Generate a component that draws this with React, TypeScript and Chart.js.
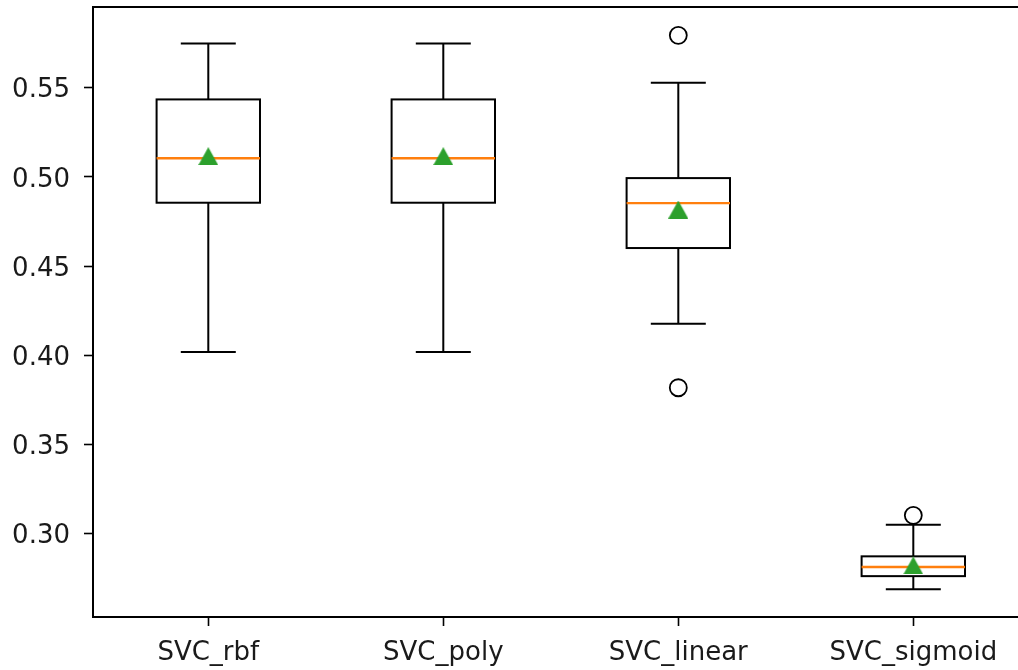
import React, { useEffect, useRef } from 'react';
import { Chart, registerables } from 'chart.js';

Chart.register(...registerables);

const categories = ['SVC_rbf', 'SVC_poly', 'SVC_linear', 'SVC_sigmoid'];
const whiskerLow = [0.4018, 0.4018, 0.4177, 0.2688];
const q1 = [0.4855, 0.4855, 0.4601, 0.2762];
const medians = [0.5104, 0.5104, 0.4853, 0.2813];
const q3 = [0.5434, 0.5434, 0.4993, 0.2873];
const whiskerHigh = [0.5747, 0.5747, 0.5528, 0.305];
const means = [0.5116, 0.5116, 0.4817, 0.2822];
const outlierCategory = [3, 3, 4];
const outlierValues = [0.5793, 0.3818, 0.3103];
const yTicks = [0.3, 0.35, 0.4, 0.45, 0.5, 0.55];

const FONT = { family: "'DejaVu Sans', sans-serif", size: 26 };
const TEXT = '#1a1a1a';

export default function App() {
  const ref = useRef<HTMLCanvasElement>(null);

  useEffect(() => {
    if (!ref.current) return;

    const tri = document.createElement('canvas');
    tri.width = 20;
    tri.height = 18;
    const tctx = tri.getContext('2d')!;
    tctx.fillStyle = '#2ca02c';
    tctx.beginPath();
    tctx.moveTo(10, 0);
    tctx.lineTo(20, 18);
    tctx.lineTo(0, 18);
    tctx.closePath();
    tctx.fill();

    const boxHalf = 0.22;
    const capHalf = 0.117;

    const boxPlugin = {
      id: 'boxes',
      beforeDatasetsDraw(chart: any) {
        const { ctx, scales, chartArea } = chart;
        const x = scales.x;
        const y = scales.y;
        ctx.save();
        ctx.beginPath();
        ctx.rect(chartArea.left, chartArea.top, chartArea.right - chartArea.left, chartArea.bottom - chartArea.top);
        ctx.clip();
        categories.forEach((_, i) => {
          const pos = i + 1;
          const xc = x.getPixelForValue(pos);
          const xl = x.getPixelForValue(pos - boxHalf);
          const xr = x.getPixelForValue(pos + boxHalf);
          const cl = x.getPixelForValue(pos - capHalf);
          const cr = x.getPixelForValue(pos + capHalf);
          const yLo = y.getPixelForValue(whiskerLow[i]);
          const yQ1 = y.getPixelForValue(q1[i]);
          const yMed = y.getPixelForValue(medians[i]);
          const yQ3 = y.getPixelForValue(q3[i]);
          const yHi = y.getPixelForValue(whiskerHigh[i]);
          ctx.strokeStyle = '#000';
          ctx.lineWidth = 2;
          ctx.beginPath();
          ctx.moveTo(xc, yQ3);
          ctx.lineTo(xc, yHi);
          ctx.moveTo(cl, yHi);
          ctx.lineTo(cr, yHi);
          ctx.moveTo(xc, yQ1);
          ctx.lineTo(xc, yLo);
          ctx.moveTo(cl, yLo);
          ctx.lineTo(cr, yLo);
          ctx.stroke();
          ctx.strokeRect(xl, yQ3, xr - xl, yQ1 - yQ3);
          ctx.strokeStyle = '#ff7f0e';
          ctx.lineWidth = 2.4;
          ctx.beginPath();
          ctx.moveTo(xl, yMed);
          ctx.lineTo(xr, yMed);
          ctx.stroke();
        });
        ctx.restore();
      },
      afterDraw(chart: any) {
        const { ctx, chartArea } = chart;
        ctx.save();
        ctx.strokeStyle = '#000';
        ctx.lineWidth = 2;
        ctx.beginPath();
        ctx.moveTo(chartArea.left, chartArea.top);
        ctx.lineTo(chartArea.right, chartArea.top);
        ctx.stroke();
        ctx.restore();
      },
    };

    const chart = new Chart(ref.current, {
      type: 'scatter',
      data: {
        datasets: [
          {
            label: 'outliers',
            data: outlierCategory.map((c, i) => ({ x: c, y: outlierValues[i] })),
            pointStyle: 'circle',
            pointRadius: 8.5,
            borderColor: '#000',
            borderWidth: 1.8,
            backgroundColor: 'rgba(0,0,0,0)',
          },
          {
            label: 'means',
            data: categories.map((_, i) => ({ x: i + 1, y: means[i] })),
            pointStyle: tri as any,
            pointRadius: 10,
          },
        ],
      },
      options: {
        responsive: false,
        animation: false,
        events: [],
        layout: { autoPadding: false, padding: { top: 7, left: 0, right: 0, bottom: 0 } },
        plugins: { legend: { display: false }, tooltip: { enabled: false } },
        scales: {
          x: {
            type: 'linear',
            min: 0.5094,
            max: 4.4455,
            afterBuildTicks: (s: any) => {
              s.ticks = categories.map((_, i) => ({ value: i + 1 }));
            },
            afterFit: (s: any) => {
              s.height = 53;
              s.paddingLeft = 0;
              s.paddingRight = 0;
            },
            grid: { display: true, drawOnChartArea: false, drawTicks: true, tickLength: 9, tickWidth: 1.6, tickColor: '#000' },
            border: { display: true, color: '#000', width: 2 },
            ticks: {
              font: FONT,
              color: TEXT,
              padding: 12,
              maxRotation: 0,
              autoSkip: false,
              callback: (v: any) => categories[Math.round(v) - 1] ?? '',
            },
          },
          y: {
            type: 'linear',
            min: 0.2533,
            max: 0.5952,
            afterBuildTicks: (s: any) => {
              s.ticks = yTicks.map((v) => ({ value: v }));
            },
            afterFit: (s: any) => {
              s.width = 93;
              s.paddingTop = 0;
              s.paddingBottom = 0;
            },
            grid: { display: true, drawOnChartArea: false, drawTicks: true, tickLength: 9, tickWidth: 1.6, tickColor: '#000' },
            border: { display: true, color: '#000', width: 2 },
            ticks: {
              font: FONT,
              color: TEXT,
              padding: 14,
              labelOffset: 3,
              autoSkip: false,
              callback: (v: any) => Number(v).toFixed(2),
            },
          },
        },
      },
      plugins: [boxPlugin],
    });

    return () => chart.destroy();
  }, []);

  return (
    <div style={{ position: 'fixed', left: 0, top: 0, width: 1018, height: 670, background: '#fff' }}>
      <canvas ref={ref} width={1018} height={670} style={{ display: 'block' }} />
    </div>
  );
}
